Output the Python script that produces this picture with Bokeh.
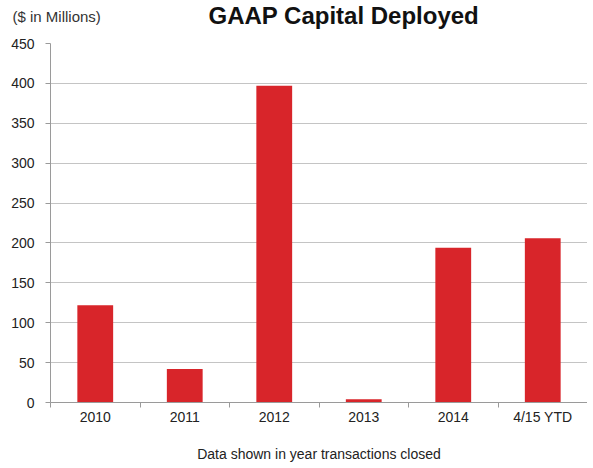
from bokeh.plotting import figure
from bokeh.models import FixedTicker, Title, ColumnDataSource, Range1d
from bokeh.embed import file_html
from bokeh.resources import INLINE

categories = ["2010", "2011", "2012", "2013", "2014", "4/15 YTD"]
values = [122, 42, 397, 4, 194, 206]
y_ticks = [0, 50, 100, 150, 200, 250, 300, 350, 400, 450]

xs = [i + 0.5 for i in range(len(categories))]
src = ColumnDataSource(dict(x=xs, top=values, cat=categories))

FONT = "Liberation Sans"
W, H = 587, 464
LEFT, TOP, BOTTOM = 50, 43, 403
YMAX = 450
p = figure(width=W, height=H, output_backend="svg", toolbar_location=None,
           x_range=Range1d(0, len(categories)), y_range=Range1d(0, YMAX),
           title_location=None, min_border_left=LEFT, min_border_right=0,
           min_border_top=TOP, min_border_bottom=H - BOTTOM)
p.outline_line_color = None
p.background_fill_color = "white"
p.border_fill_color = "white"

p.vbar(x="x", top="top", width=0.40, bottom=0, source=src,
       fill_color="#d8252a", line_color=None)

p.xgrid.visible = False
p.ygrid.ticker = FixedTicker(ticks=y_ticks)
p.ygrid.grid_line_color = "#c4c4c4"
p.ygrid.grid_line_width = 1

p.yaxis.ticker = FixedTicker(ticks=y_ticks)
p.yaxis.axis_line_color = "#9a9a9a"
p.yaxis.major_tick_line_color = "#9a9a9a"
p.yaxis.major_tick_out = 5
p.yaxis.major_tick_in = 0
p.yaxis.minor_tick_line_color = None
p.yaxis.major_label_text_font = FONT
p.yaxis.major_label_text_font_size = "14px"
p.yaxis.major_label_text_color = "#222222"
p.yaxis.major_label_standoff = 11

p.xaxis.ticker = FixedTicker(ticks=xs, minor_ticks=list(range(len(categories) + 1)))
p.xaxis.major_label_overrides = {x: c for x, c in zip(xs, categories)}
p.xaxis.axis_line_color = "#9a9a9a"
p.xaxis.major_tick_line_color = None
p.xaxis.major_tick_out = 0
p.xaxis.major_tick_in = 0
p.xaxis.minor_tick_line_color = "#9a9a9a"
p.xaxis.minor_tick_out = 5
p.xaxis.minor_tick_in = 0
p.xaxis.major_label_text_font = FONT
p.xaxis.major_label_text_font_size = "14px"
p.xaxis.major_label_text_color = "#222222"
p.xaxis.major_label_standoff = 1
p.xaxis.axis_label = "Data shown in year transactions closed"
p.xaxis.axis_label_text_font = FONT
p.xaxis.axis_label_text_font_size = "14px"
p.xaxis.axis_label_text_font_style = "normal"
p.xaxis.axis_label_text_color = "#222222"
p.xaxis.axis_label_standoff = 18

# Both heading texts sit in the top border; negative standoffs place them
# without enlarging the border (their layout size collapses to zero).
unit_title = Title(text="($ in Millions)", text_font=FONT, text_font_size="15px",
                   text_font_style="normal", text_color="#333333",
                   align="left", offset=12 - LEFT, vertical_align="top",
                   standoff=-71)
main_title = Title(text="GAAP Capital Deployed", text_font=FONT, text_font_size="24px",
                   text_font_style="bold", text_color="#111111",
                   align="left", offset=208 - LEFT, vertical_align="top",
                   standoff=-83)
p.add_layout(unit_title, "above")
p.add_layout(main_title, "above")

open("out.html", "w").write(file_html(p, INLINE))
